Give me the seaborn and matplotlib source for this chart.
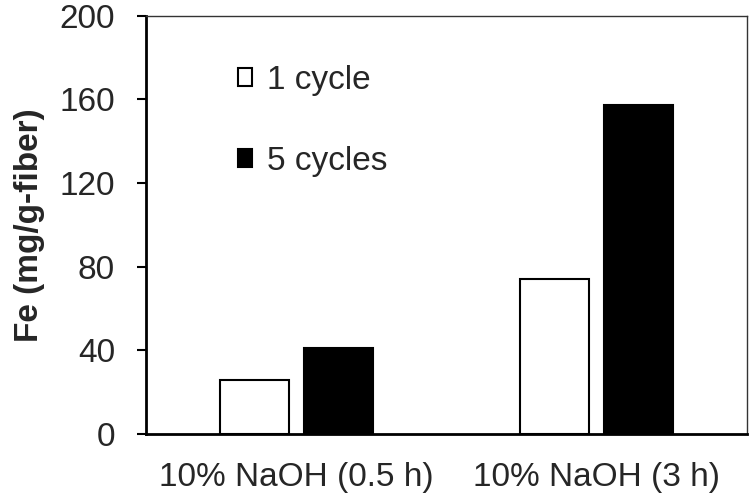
import pandas as pd
import matplotlib
matplotlib.use("Agg")
import matplotlib.pyplot as plt
import seaborn as sns

treatments = ["10% NaOH (0.5 h)", "10% NaOH (3 h)"]
cycles = ["1 cycle", "5 cycles"]
fe_1_cycle = [25.8, 74.2]
fe_5_cycles = [41.0, 157.4]

df = pd.DataFrame({
    "treatment": treatments * 2,
    "cycles": [cycles[0]] * 2 + [cycles[1]] * 2,
    "fe": fe_1_cycle + fe_5_cycles,
})

sns.set_style("white")
plt.rcParams["font.family"] = ["Liberation Sans", "DejaVu Sans"]

fig = plt.figure(figsize=(7.5, 4.97), dpi=100)
ax = fig.add_axes([0.195, 0.127, 0.801, 0.841])

sns.barplot(data=df, x="treatment", y="fe", hue="cycles", order=treatments,
            hue_order=cycles, palette=["white", "black"], edgecolor="black",
            linewidth=1.5, width=0.56, gap=0.18, ax=ax)

ax.set_xlim(-0.5, 1.5)
ax.set_ylim(0, 200)
ax.set_yticks([0, 40, 80, 120, 160, 200])
ax.tick_params(axis="y", direction="out", length=6.5, width=1.5, labelsize=24,
               left=True, pad=16, color="black")
ax.tick_params(axis="x", length=0, labelsize=24, pad=20)
ax.set_xlabel("")
ax.set_ylabel("Fe (mg/g-fiber)", fontsize=24, fontweight="bold", labelpad=10)

for side in ["left", "bottom"]:
    ax.spines[side].set_linewidth(2)
    ax.spines[side].set_color("black")
for side in ["top", "right"]:
    ax.spines[side].set_linewidth(1)
    ax.spines[side].set_color("#333333")

handles, labels = ax.get_legend_handles_labels()
ax.legend(handles, labels, loc="upper left", bbox_to_anchor=(0.153, 0.883),
          frameon=False, fontsize=24, handlelength=0.42, handleheight=0.42,
          handletextpad=0.45, labelspacing=1.5, borderpad=0, borderaxespad=0)

fig.savefig("out.png", dpi=100)
